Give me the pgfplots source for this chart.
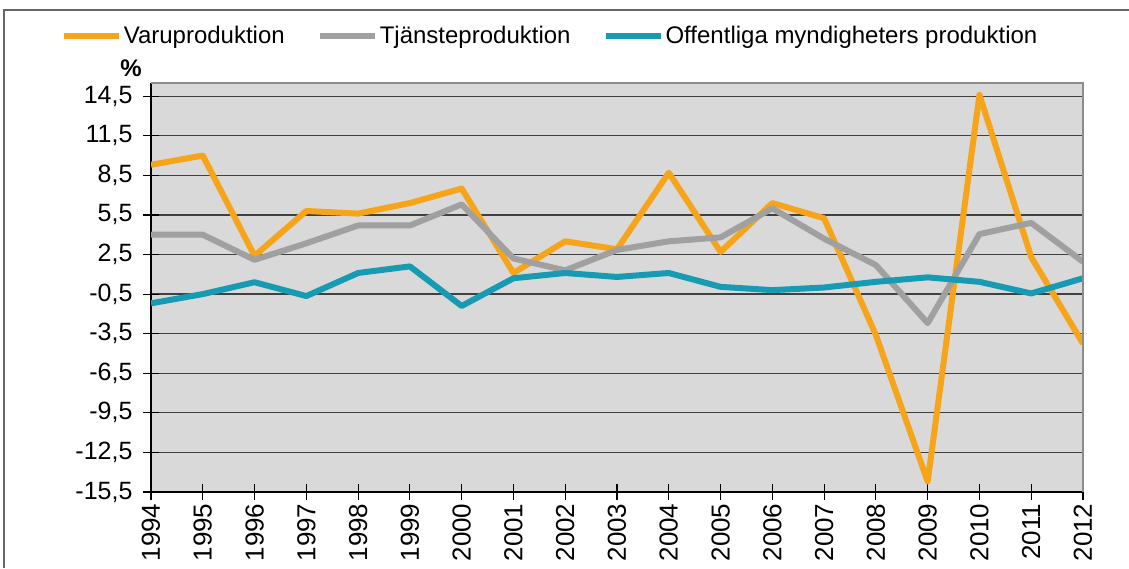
\documentclass[border=0pt]{standalone}
\usepackage{pgfplots}
\pgfplotsset{compat=1.18}
\usepackage{fontspec}
\setmainfont{Liberation Sans}
\definecolor{cOr}{RGB}{246,164,26}
\definecolor{cGr}{RGB}{160,160,160}
\definecolor{cTe}{RGB}{22,155,178}
\definecolor{cBg}{RGB}{217,217,217}
\newcommand\yl[1]{\scalebox{1.25}{\fontsize{20}{24}\selectfont #1}}
\newcommand\xl[1]{\scalebox{1.3}{\fontsize{20}{24}\selectfont #1}}
\pgfplotstableread{
year var tja off
1994 9.3 4.0 -1.2
1995 10.0 4.0 -0.5
1996 2.4 2.1 0.4
1997 5.8 3.35 -0.65
1998 5.6 4.7 1.1
1999 6.4 4.7 1.6
2000 7.5 6.3 -1.4
2001 1.1 2.2 0.7
2002 3.5 1.3 1.1
2003 2.9 2.85 0.8
2004 8.7 3.5 1.1
2005 2.7 3.8 0.05
2006 6.4 6.0 -0.2
2007 5.25 3.7 0.0
2008 -3.6 1.7 0.43
2009 -14.7 -2.7 0.77
2010 14.6 4.05 0.43
2011 2.3 4.9 -0.45
2012 -4.25 1.95 0.7
}\data
\begin{document}
\begin{tikzpicture}[x=1pt,y=1pt]
\begin{axis}[
 at={(151pt,-492pt)}, anchor=south west,
 scale only axis, width=932pt, height=409pt,
 xmin=1994, xmax=2012, ymin=-15.5, ymax=15.5,
 /pgf/number format/assume math mode=true,
 axis x line*=bottom, axis y line*=left,
 axis line style={black, line width=1.2pt},
 axis background/.style={fill=cBg},
 xtick={1994,1995,1996,1997,1998,1999,2000,2001,2002,2003,2004,2005,2006,2007,2008,2009,2010,2011,2012},
 xticklabels={\xl{1994},\xl{1995},\xl{1996},\xl{1997},\xl{1998},\xl{1999},\xl{2000},\xl{2001},\xl{2002},\xl{2003},\xl{2004},\xl{2005},\xl{2006},\xl{2007},\xl{2008},\xl{2009},\xl{2010},\xl{2011},\xl{2012}},
 ytick={-15.5,-12.5,-9.5,-6.5,-3.5,-0.5,2.5,5.5,8.5,11.5,14.5},
 yticklabels={\yl{-15,5},\yl{-12,5},\yl{-9,5},\yl{-6,5},\yl{-3,5},\yl{-0,5},\yl{2,5},\yl{5,5},\yl{8,5},\yl{11,5},\yl{14,5}},
 tick align=center, major tick length=16pt,
 tick style={black, line width=1.2pt},
 ymajorgrids, major grid style={draw=black!75, line width=1.3pt},
 y tick label style={font=\fontsize{20}{24}\selectfont, xshift=-7pt},
 x tick label style={font=\fontsize{20}{24}\selectfont, rotate=90, anchor=east},
 legend columns=3,
 legend style={at={(-0.097,1.1149)}, anchor=west, draw=none, fill=none,
   font=\fontsize{24}{29}\selectfont, inner sep=0pt,
   nodes={inner sep=2pt},
   /tikz/every even column/.append style={column sep=30pt}},
 legend image code/.code={\draw[#1, line width=6pt] (0pt,0pt) -- (55pt,0pt);},
 every axis plot/.append style={line width=6pt, line join=round, no markers},
]
\addplot[cOr] table[x=year,y=var] {\data};
\addlegendentry{Varuproduktion}
\addplot[cGr] table[x=year,y=tja] {\data};
\addlegendentry{Tjänsteproduktion}
\addplot[cTe] table[x=year,y=off] {\data};
\addlegendentry{Offentliga myndigheters produktion}
\end{axis}
\draw[black!45, line width=2.5pt] (151pt,-83pt) -- (1083pt,-83pt) -- (1083pt,-492pt);
\node[font=\bfseries\fontsize{24}{29}\selectfont] at (131pt,-68pt) {\%};
\draw[black!60, line width=2pt] (4pt,-568pt) -- (4pt,-10pt) -- (1129pt,-10pt);
\pgfresetboundingbox
\path[use as bounding box] (0pt,0pt) rectangle (1129pt,-568pt);
\end{tikzpicture}
\end{document}
